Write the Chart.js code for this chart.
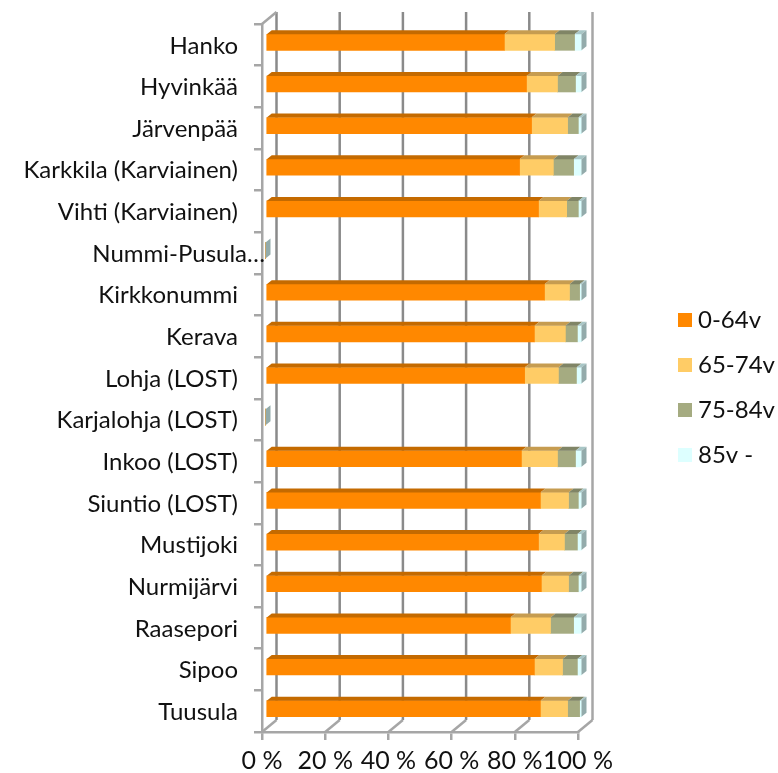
<!DOCTYPE html>
<html>
<head>
<meta charset="utf-8">
<script src="https://cdn.jsdelivr.net/npm/chart.js@4"></script>
<style>
  html, body { margin: 0; background: #fff; overflow: hidden; }
  canvas { display: block; }
</style>
</head>
<body>
<canvas id="chart" width="778" height="773"></canvas>
<script>
const categories = ['Hanko', 'Hyvinkää', 'Järvenpää', 'Karkkila (Karviainen)', 'Vihti (Karviainen)', 'Nummi-Pusula…',
  'Kirkkonummi', 'Kerava', 'Lohja (LOST)', 'Karjalohja (LOST)', 'Inkoo (LOST)', 'Siuntio (LOST)', 'Mustijoki',
  'Nurmijärvi', 'Raasepori', 'Sipoo', 'Tuusula'];
const age0to64 = [75.6, 82.6, 84.2, 80.4, 86.4, 0, 88.3, 85.1, 82.0, 0, 81.0, 87.0, 86.4, 87.3, 77.5, 85.1, 87.0];
const age65to74 = [15.9, 9.8, 11.4, 10.7, 8.9, 0, 7.9, 9.8, 10.7, 0, 11.4, 8.9, 8.2, 8.6, 12.7, 8.9, 8.6];
const age75to84 = [6.3, 5.7, 3.4, 6.4, 3.7, 0, 3.2, 3.8, 5.7, 0, 5.7, 3.1, 4.1, 3.1, 7.3, 4.7, 3.8];
const age85plus = [2.2, 1.9, 1.0, 2.5, 1.0, 0, 0.6, 1.3, 1.6, 0, 1.9, 1.0, 1.3, 1.0, 2.5, 1.3, 0.6];
const xTicks = [0, 20, 40, 60, 80, 100];

const FONT = 'Lato, sans-serif';
const AXIS = '#8a8a8a';
const AXIS_LIGHT = '#a6a6a6';
const DEPTH_X = 14.5, DEPTH_Y = 12; // back wall offset
const BAR_X = 3.5, BAR_Y = -2.5; // bars sit a little inside the box
const FACE_X = 5, FACE_Y = 4; // bar thickness in 3d

const series = [
  { label: '0-64v', data: age0to64, color: '#ff8800', top: '#c46a00' },
  { label: '65-74v', data: age65to74, color: '#ffcc66', top: '#c69c50' },
  { label: '75-84v', data: age75to84, color: '#a5ab81', top: '#808566' },
  { label: '85v -', data: age85plus, color: '#ddffff', top: '#a8c6c6', side: '#93abab' }
];

function line(ctx, x1, y1, x2, y2, color) {
  ctx.strokeStyle = color;
  ctx.lineWidth = 2.5;
  ctx.beginPath();
  ctx.moveTo(x1, y1);
  ctx.lineTo(x2, y2);
  ctx.stroke();
}

function face(ctx, points, color) {
  ctx.fillStyle = color;
  ctx.beginPath();
  points.forEach((p, i) => i ? ctx.lineTo(p[0], p[1]) : ctx.moveTo(p[0], p[1]));
  ctx.closePath();
  ctx.fill();
}

const box3d = {
  id: 'box3d',
  beforeDatasetsDraw(chart) {
    const ctx = chart.ctx, area = chart.chartArea, x = chart.scales.x;
    ctx.save();
    xTicks.forEach(v => {
      const px = x.getPixelForValue(v);
      const color = v === 100 ? AXIS_LIGHT : AXIS;
      line(ctx, px + DEPTH_X, area.top - DEPTH_Y, px + DEPTH_X, area.bottom - DEPTH_Y, color);
      line(ctx, px, area.bottom, px + DEPTH_X, area.bottom - DEPTH_Y, AXIS_LIGHT);
    });
    line(ctx, area.left, area.top, area.left + DEPTH_X, area.top - DEPTH_Y, AXIS_LIGHT);
    ctx.restore();
    // bars are drawn shifted, the faces below use the same shift
    ctx.save();
    ctx.translate(BAR_X, BAR_Y);
  },
  afterDatasetsDraw(chart) {
    const ctx = chart.ctx;
    chart.data.datasets.forEach((ds, d) => {
      chart.getDatasetMeta(d).data.forEach(bar => {
        const top = bar.y - bar.height / 2, bottom = bar.y + bar.height / 2;
        face(ctx, [[bar.base, top], [bar.x, top], [bar.x + FACE_X, top - FACE_Y], [bar.base + FACE_X, top - FACE_Y]], series[d].top);
        if (series[d].side) {
          face(ctx, [[bar.x, top], [bar.x + FACE_X, top - FACE_Y], [bar.x + FACE_X, bottom - FACE_Y], [bar.x, bottom]], series[d].side);
        }
      });
    });
    ctx.restore();
  },
  afterDraw(chart) {
    const ctx = chart.ctx, y = chart.scales.y;
    ctx.save();
    ctx.fillStyle = '#111';
    ctx.font = '24px ' + FONT;
    ctx.textBaseline = 'middle';
    // the long label runs past the axis in the original
    const long = categories.findIndex(c => c.endsWith('…'));
    ctx.textAlign = 'right';
    ctx.fillText(categories[long], 265, y.getPixelForTick(long) + 1);
    // legend
    ctx.textAlign = 'left';
    series.forEach((s, i) => {
      const ly = 320 + i * 45;
      ctx.fillStyle = s.color;
      ctx.fillRect(678, ly - 7, 14, 14);
      ctx.fillStyle = '#111';
      ctx.fillText(s.label, 698, ly);
    });
    ctx.restore();
  }
};

new Chart(document.getElementById('chart'), {
  type: 'bar',
  data: {
    labels: categories,
    datasets: series.map(s => ({
      label: s.label,
      data: s.data,
      backgroundColor: s.color,
      borderWidth: 0,
      barThickness: 16,
      clip: false
    }))
  },
  plugins: [box3d],
  options: {
    indexAxis: 'y',
    responsive: false,
    animation: false,
    layout: { padding: { top: 24, right: 200, left: 0, bottom: 0 } },
    plugins: { legend: { display: false }, title: { display: false }, tooltip: { enabled: false } },
    scales: {
      x: {
        stacked: true,
        min: 0,
        max: 100,
        afterFit: s => { s.height = 41; },
        afterBuildTicks: s => { s.ticks = xTicks.map(v => ({ value: v })); },
        border: { color: AXIS_LIGHT, width: 2.5 },
        grid: { drawOnChartArea: false, color: AXIS_LIGHT, lineWidth: 2.5, tickLength: 8 },
        ticks: {
          maxRotation: 0,
          autoSkip: false,
          padding: 6,
          color: '#111',
          font: { family: FONT, size: 25 },
          callback: v => v + ' %'
        }
      },
      y: {
        stacked: true,
        afterFit: s => { s.width = 262; s.paddingTop = 0; s.paddingBottom = 0; },
        border: { color: AXIS_LIGHT, width: 2.5 },
        grid: { drawOnChartArea: false, color: AXIS_LIGHT, lineWidth: 2.5, tickLength: 8 },
        ticks: {
          autoSkip: false,
          padding: 16,
          labelOffset: 1,
          color: '#111',
          font: { family: FONT, size: 24 },
          callback: (v, i) => categories[i].endsWith('…') ? '' : categories[i]
        }
      }
    }
  }
});
</script>
</body>
</html>
